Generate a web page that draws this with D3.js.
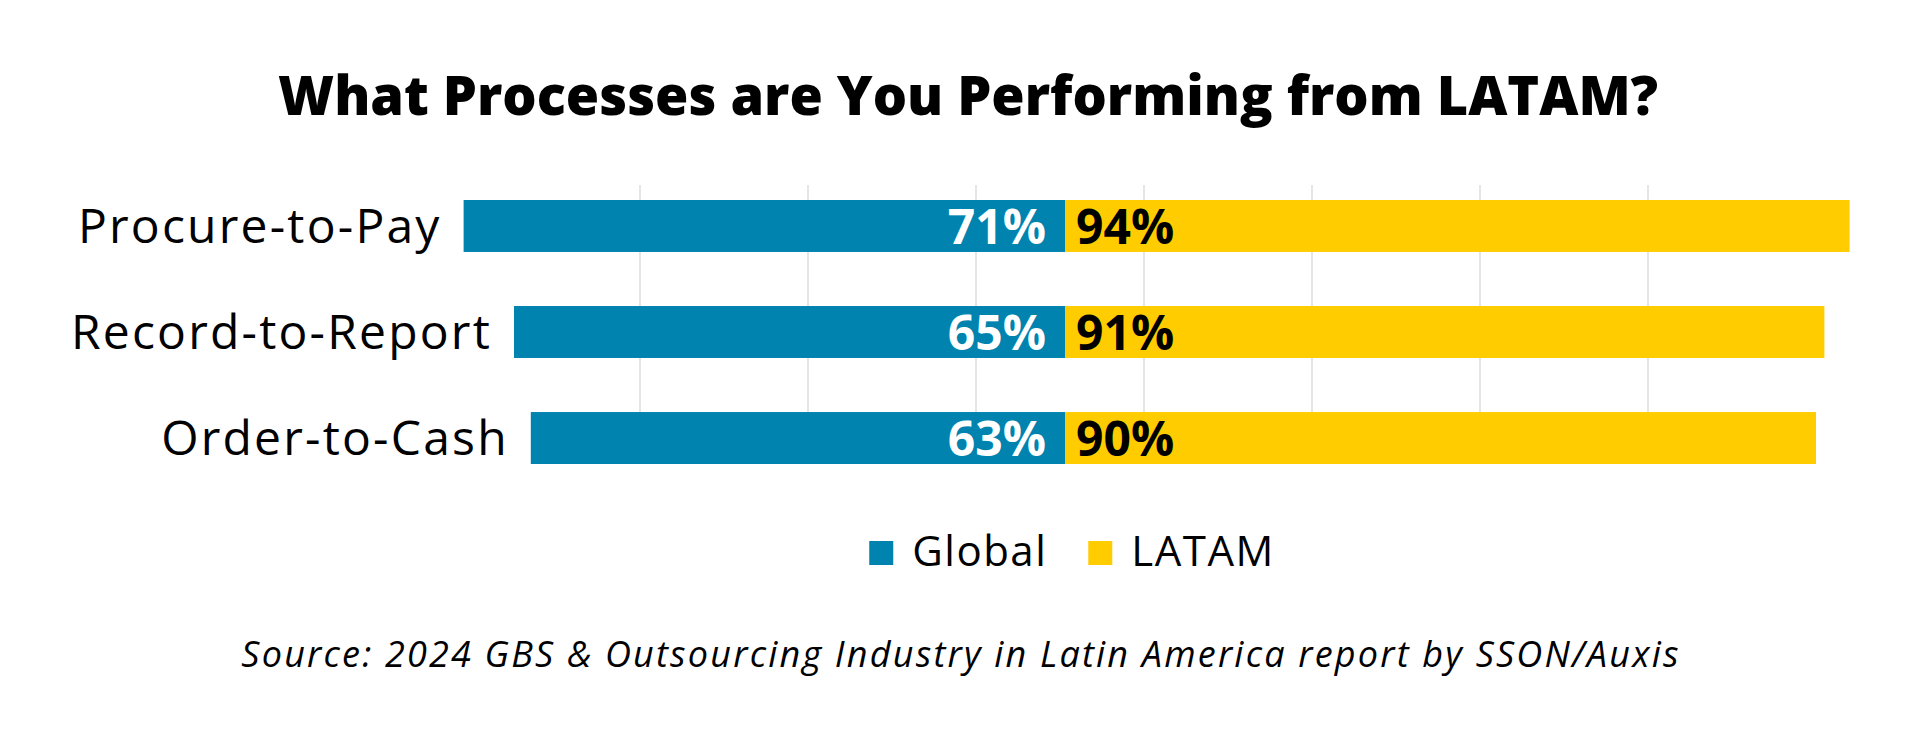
<!DOCTYPE html>
<html>
<head>
<meta charset="utf-8">
<script src="https://cdn.jsdelivr.net/npm/d3@7"></script>
<style>
  html, body { margin: 0; padding: 0; background: #fff; }
  text { font-family: "Open Sans", "Noto Sans", sans-serif; }
</style>
</head>
<body>
<script>
// data
const processes = ["Procure-to-Pay", "Record-to-Report", "Order-to-Cash"]
const globalPct = [71, 65, 63]
const latamPct = [94, 91, 90]
const seriesNames = ["Global", "LATAM"]
const gridTicks = [-50, -30, -10, 10, 30, 50, 70]

const title = "What Processes are You Performing from LATAM?"
const source = "Source: 2024 GBS & Outsourcing Industry in Latin America report by SSON/Auxis"

const width = 1920, height = 750
const blue = "#0083AE", yellow = "#FFCC00"

const svg = d3.select("body").append("svg")
    .attr("width", width)
    .attr("height", height)

// zero sits at 1060, 8.4px per percent point
const x = d3.scaleLinear().domain([-100, 100]).range([220, 1900])
const seam = 5 // bars meet slightly right of zero

const y = d3.scaleBand()
    .domain(processes)
    .range([200, 464])
    .paddingInner(0.51)

const rows = processes.map((p, i) => ({ name: p, g: globalPct[i], l: latamPct[i] }))

svg.append("text")
    .attr("x", 968)
    .attr("y", 115)
    .attr("text-anchor", "middle")
    .style("font-size", "54px")
    .style("font-weight", 800)
    .text(title)

// gridlines
svg.append("g")
  .selectAll("line")
  .data(gridTicks)
  .join("line")
    .attr("x1", d => x(d)).attr("x2", d => x(d))
    .attr("y1", 185).attr("y2", y.range()[1])
    .attr("stroke", "#dcdcdc")
    .attr("stroke-width", 1.5)

const row = svg.append("g").selectAll("g")
  .data(rows)
  .join("g")

row.append("rect")
    .attr("x", d => x(-d.g))
    .attr("y", d => y(d.name))
    .attr("width", d => x(0) + seam - x(-d.g))
    .attr("height", y.bandwidth())
    .attr("fill", blue)

row.append("rect")
    .attr("x", x(0) + seam)
    .attr("y", d => y(d.name))
    .attr("width", d => x(d.l) - x(0) - seam)
    .attr("height", y.bandwidth())
    .attr("fill", yellow)

row.append("text")
    .attr("x", d => x(-d.g) - 22)
    .attr("y", d => y(d.name) + y.bandwidth() / 2 + 17)
    .attr("text-anchor", "end")
    .style("font-size", "48px")
    .style("letter-spacing", "2.2px")
    .text(d => d.name)

row.append("text")
    .attr("x", x(0) + seam - 19)
    .attr("y", d => y(d.name) + y.bandwidth() / 2 + 18)
    .attr("text-anchor", "end")
    .attr("fill", "#fff")
    .style("font-size", "48px")
    .style("font-weight", 700)
    .text(d => d.g + "%")

row.append("text")
    .attr("x", x(0) + seam + 11)
    .attr("y", d => y(d.name) + y.bandwidth() / 2 + 18)
    .attr("fill", "#000")
    .style("font-size", "48px")
    .style("font-weight", 700)
    .text(d => d.l + "%")

// legend, laid out from measured text widths
const legend = svg.append("g")
let lx = 0
seriesNames.forEach((s, i) => {
  const item = legend.append("g").attr("transform", `translate(${lx},0)`)
  item.append("rect")
      .attr("y", 541).attr("width", 24).attr("height", 24)
      .attr("fill", i === 0 ? blue : yellow)
  const t = item.append("text")
      .attr("x", 43).attr("y", 566)
      .style("font-size", "42px")
      .style("letter-spacing", "1.5px")
      .text(s)
  lx += 43 + t.node().getComputedTextLength() + 41
})
legend.attr("transform", `translate(${1072 - (lx - 41) / 2},0)`)

svg.append("text")
    .attr("x", 961)
    .attr("y", 667)
    .attr("text-anchor", "middle")
    .style("font-size", "36px")
    .style("font-style", "italic")
    .style("letter-spacing", "2.2px")
    .text(source)
</script>
</body>
</html>
